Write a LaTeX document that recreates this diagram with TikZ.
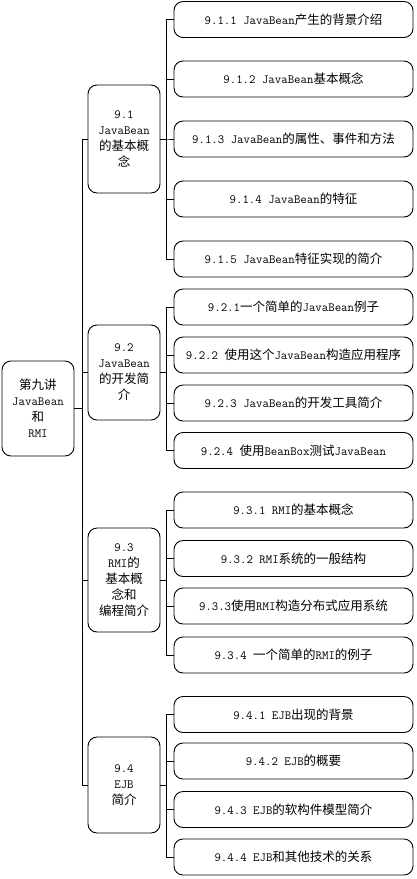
\documentclass[tikz,border=0pt]{standalone}
\usepackage{fontspec}
\setmainfont{Noto Sans CJK SC}
\newcommand{\lt}[1]{{\ttfamily #1}}
\begin{document}
\begin{tikzpicture}[x=1pt,y=-1pt,
  box/.style={draw,line width=0.9pt,rounded corners=9pt,align=center,inner sep=0pt,
    font=\fontsize{12.5}{16}\selectfont},
  leaf/.style={box,minimum width=239pt,minimum height=36pt},
  sec/.style={box,minimum width=72pt},
  link/.style={line width=0.9pt}]
\useasboundingbox (0,0) rectangle (416,879);
% root
\node[box,minimum width=72pt,minimum height=95pt] (root) at (38,408.5)
  {第九讲\\\lt{JavaBean}\\和\\\lt{RMI}};
% sections
\node[sec,minimum height=108pt] (s1) at (124,139) {\lt{9.1}\\\lt{JavaBean}\\的基本概\\念};
\node[sec,minimum height=95pt] (s2) at (124,372.5) {\lt{9.2}\\\lt{JavaBean}\\的开发简\\介};
\node[sec,minimum height=104pt] (s3) at (124,580) {\lt{9.3}\\\lt{RMI}的\\基本概\\念和\\编程简介};
\node[sec,minimum height=96pt] (s4) at (124,785) {\lt{9.4}\\\lt{EJB}\\简介};
% leaves 9.1
\node[leaf] (l11) at (293.5,19.5) {\lt{9.1.1 JavaBean}产生的背景介绍};
\node[leaf] (l12) at (293.5,79) {\lt{9.1.2 JavaBean}基本概念};
\node[leaf] (l13) at (293.5,139) {\lt{9.1.3 JavaBean}的属性、事件和方法};
\node[leaf] (l14) at (293.5,199) {\lt{9.1.4 JavaBean}的特征};
\node[leaf] (l15) at (293.5,259) {\lt{9.1.5 JavaBean}特征实现的简介};
% leaves 9.2
\node[leaf] (l21) at (293.5,307) {\lt{9.2.1}一个简单的\lt{JavaBean}例子};
\node[leaf] (l22) at (293.5,355) {\lt{9.2.2\ }使用这个\lt{JavaBean}构造应用程序};
\node[leaf] (l23) at (293.5,403) {\lt{9.2.3 JavaBean}的开发工具简介};
\node[leaf] (l24) at (293.5,450.5) {\lt{9.2.4\ }使用\lt{BeanBox}测试\lt{JavaBean}};
% leaves 9.3
\node[leaf] (l31) at (293.5,510) {\lt{9.3.1 RMI}的基本概念};
\node[leaf] (l32) at (293.5,558.5) {\lt{9.3.2 RMI}系统的一般结构};
\node[leaf] (l33) at (293.5,606) {\lt{9.3.3}使用\lt{RMI}构造分布式应用系统};
\node[leaf] (l34) at (293.5,655) {\lt{9.3.4\ }一个简单的\lt{RMI}的例子};
% leaves 9.4
\node[leaf] (l41) at (293.5,714.5) {\lt{9.4.1 EJB}出现的背景};
\node[leaf] (l42) at (293.5,761) {\lt{9.4.2 EJB}的概要};
\node[leaf] (l43) at (293.5,809.5) {\lt{9.4.3 EJB}的软构件模型简介};
\node[leaf] (l44) at (293.5,857) {\lt{9.4.4 EJB}和其他技术的关系};
% connectors
\foreach \s in {s1,s2,s3,s4}
  \draw[link] (root.east) -- ++(8,0) |- (\s.west);
\foreach \s/\l in {s1/l11,s1/l12,s1/l13,s1/l14,s1/l15,
                   s2/l21,s2/l22,s2/l23,s2/l24,
                   s3/l31,s3/l32,s3/l33,s3/l34,
                   s4/l41,s4/l42,s4/l43,s4/l44}
  \draw[link] (\s.east) -- ++(6,0) |- (\l.west);
\end{tikzpicture}
\end{document}
